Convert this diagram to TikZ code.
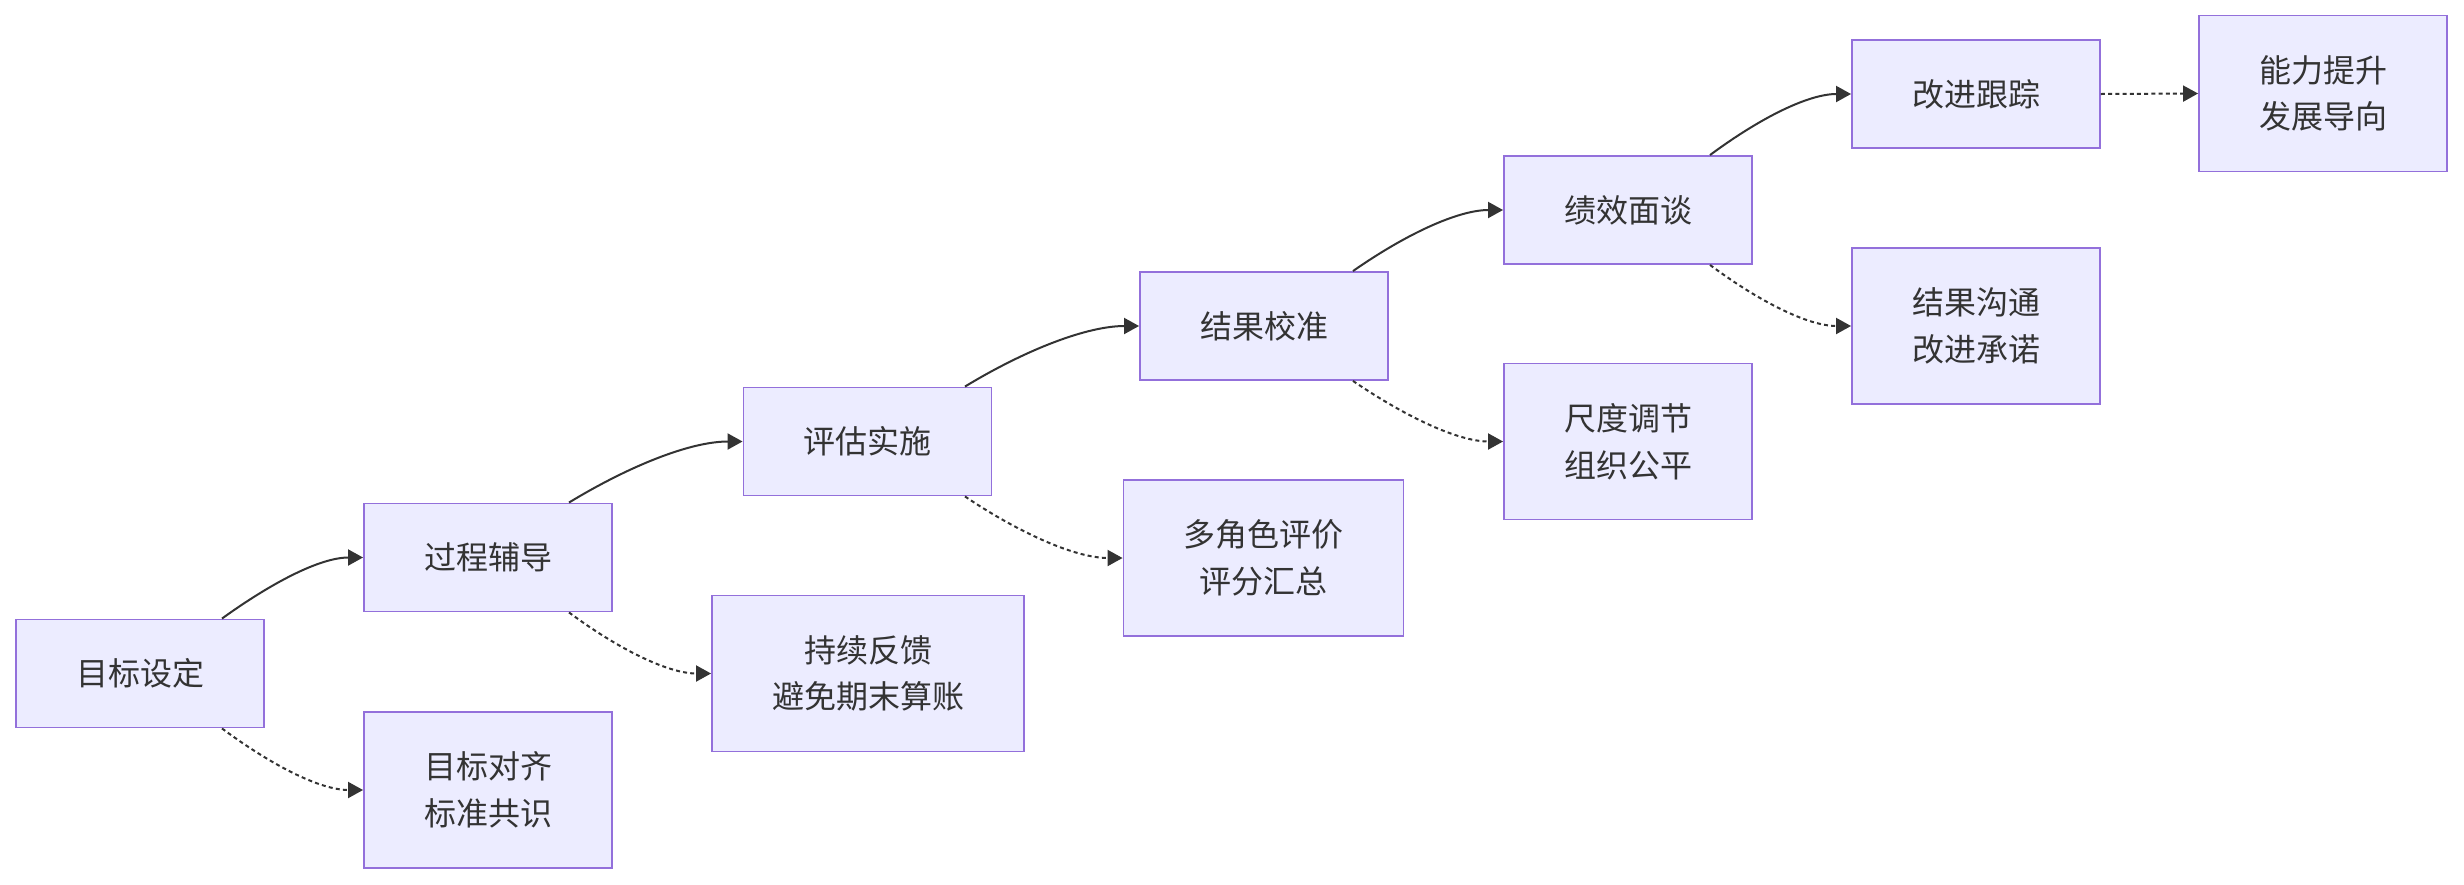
\documentclass[tikz,border=0pt]{standalone}
\usepackage{fontspec}
\newfontfamily\cjkfont{Noto Sans CJK SC}
\usetikzlibrary{arrows.meta}
\definecolor{boxfill}{HTML}{ECECFF}
\definecolor{boxline}{HTML}{9370DB}
\definecolor{edgecol}{HTML}{333333}
\begin{document}
\begin{tikzpicture}[x=0.5pt,y=-0.5pt,
  box/.style={draw=boxline, fill=boxfill, line width=0.95pt, text=edgecol,
    align=center, inner sep=0pt, minimum width=124pt, minimum height=54pt,
    font=\cjkfont\fontsize{16pt}{23.3pt}\selectfont},
  tall/.style={minimum height=78pt},
  edge/.style={draw=edgecol, line width=1pt, -{Triangle[length=7.5pt,width=8pt]}},
  dotedge/.style={edge, dash pattern=on 2pt off 1.6pt}
]
\useasboundingbox (0,0) rectangle (2464,884);
\node[box] (A) at (140,673.5) {目标设定};
\node[box] (B) at (488,557.5) {过程辅导};
\node[box,tall] (C) at (488,790) {目标对齐\\标准共识};
\node[box] (D) at (867.5,441.5) {评估实施};
\node[box,tall,minimum width=156pt] (E) at (868,673.5) {持续反馈\\避免期末算账};
\node[box] (F) at (1264,326) {结果校准};
\node[box,tall,minimum width=140pt] (G) at (1263.5,558) {多角色评价\\评分汇总};
\node[box] (H) at (1628,210) {绩效面谈};
\node[box,tall] (I) at (1628,441.5) {尺度调节\\组织公平};
\node[box] (J) at (1976,94) {改进跟踪};
\node[box,tall] (K) at (1976,326) {结果沟通\\改进承诺};
\node[box,tall] (L) at (2323,93.5) {能力提升\\发展导向};

\draw[edge] ([xshift=41pt]A.north) .. controls +(50,-36) and +(-43,0) .. (B.west);
\draw[dotedge] ([xshift=41pt]A.south) .. controls +(50,37) and +(-43,0) .. (C.west);
\draw[edge] ([xshift=40.5pt]B.north) .. controls +(61,-37) and +(-52,0) .. (D.west);
\draw[dotedge] ([xshift=40.5pt]B.south) .. controls +(50,37) and +(-43,0) .. (E.west);
\draw[edge] ([xshift=48.75pt]D.north) .. controls +(61,-37) and +(-52,0) .. (F.west);
\draw[dotedge] ([xshift=48.75pt]D.south) .. controls +(55,37) and +(-47,0) .. (G.west);
\draw[edge] ([xshift=44.5pt]F.north) .. controls +(53,-37) and +(-45,0) .. (H.west);
\draw[dotedge] ([xshift=44.5pt]F.south) .. controls +(53,36) and +(-45,0) .. (I.west);
\draw[edge] ([xshift=41pt]H.north) .. controls +(50,-37) and +(-43,0) .. (J.west);
\draw[dotedge] ([xshift=41pt]H.south) .. controls +(50,37) and +(-43,0) .. (K.west);
\draw[dotedge] (J.east) -- (L.west);
\end{tikzpicture}
\end{document}
